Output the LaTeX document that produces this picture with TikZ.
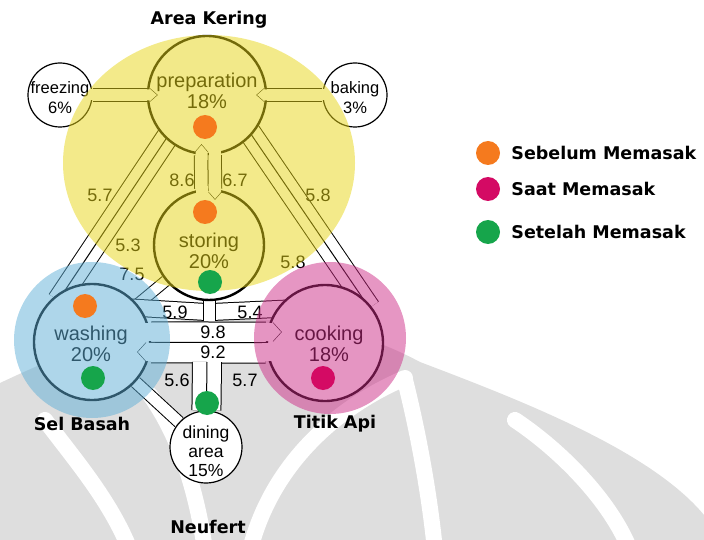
\documentclass[tikz,border=0pt]{standalone}
\usepackage{fontspec}
\setmainfont{Liberation Sans}
\newfontfamily\headfont{DejaVu Sans}
\usetikzlibrary{positioning}
\pgfdeclarelayer{bg}
\pgfsetlayers{bg,main}
\definecolor{sebelum}{RGB}{245,122,30}
\definecolor{saat}{RGB}{212,10,100}
\definecolor{setelah}{RGB}{22,165,75}
\definecolor{kering}{RGB}{231,213,21}
\definecolor{basah}{RGB}{95,175,215}
\definecolor{api}{RGB}{205,45,135}
\definecolor{wmgray}{RGB}{222,222,222}
\tikzset{
    room/.style = {circle, draw=black, line width=2.4pt, fill=white, inner sep=0pt, minimum size=#1},
    smallroom/.style = {circle, draw=black, line width=1.2pt, fill=white, inner sep=0pt, minimum size=#1},
    rtext/.style = {align=center, inner sep=0pt, font=\fontsize{20}{21}\selectfont},
    stext/.style = {align=center, inner sep=0pt, font=\fontsize{16.5}{20}\selectfont},
    flow/.style = {inner sep=0pt, font=\fontsize{18}{18}\selectfont},
    lane/.style = {draw=black, line width=1pt, double=white, double distance=#1},
    lane/.default = 8pt,
    divider/.style = {line width=1pt},
    mouth/.style = {fill=white, draw=none},
    zone/.style = {fill=#1, fill opacity=0.5, draw=none},
    dot/.style = {circle, fill=#1, inner sep=0pt, minimum size=24pt},
    head/.style = {inner sep=0pt, font=\headfont\bfseries\fontsize{17.5}{18}\selectfont},
    wmband/.style = {draw=white, line width=16pt, line cap=round},
}
\begin{document}
\begin{tikzpicture}[x=1pt, y=-1pt]
\useasboundingbox (0,0) rectangle (704,540);
% rooms
\node[room=118pt] (prep) at (207,95) {};
\node[room=110pt] (stor) at (209,245) {};
\node[room=116pt] (wash) at (92,342) {};
\node[room=116pt] (cook) at (325,343) {};
\node[smallroom=64pt] (frz) at (60,95) {};
\node[smallroom=64pt] (bak) at (355,95) {};
\node[smallroom=72pt] (din) at (206,447) {};
\coordinate (c59) at (206,312);
\coordinate (c54) at (212,312);
\coordinate (hubtop) at (209,321);
\coordinate (dintop) at (207,362);
%
\begin{pgfonlayer}{bg}
% watermark
\fill[wmgray] (0,383) .. controls (70,350) and (150,318) .. (215,318) .. controls (300,318) and (360,330) .. (420,362) .. controls (520,400) and (650,450) .. (704,515) -- (704,540) -- (0,540) -- cycle;
\draw[wmband] (45,420) .. controls (75,460) and (110,500) .. (130,550);
\draw[wmband] (150,395) .. controls (175,430) and (195,480) .. (205,550);
\draw[wmband] (250,550) .. controls (270,470) and (330,410) .. (405,378);
\draw[wmband] (405,380) .. controls (420,440) and (430,500) .. (435,550);
\draw[wmband] (515,420) .. controls (560,450) and (610,500) .. (630,550);
% corridors
\draw[lane=12pt] (frz) -- (prep);
\draw[lane=12pt] (bak) -- (prep);
\draw[lane=26pt] (prep) -- (stor);
\draw[divider] (prep) -- (stor);
\draw[lane=21pt, shorten <=-14pt, shorten >=-14pt] (prep.227) -- (wash.116);
\draw[divider, shorten <=-14pt, shorten >=-14pt] (prep.227) -- (wash.116);
\draw[lane=21pt, shorten <=-14pt, shorten >=-14pt] (prep.318) -- (cook.52);
\draw[divider, shorten <=-14pt, shorten >=-14pt] (prep.318) -- (cook.52);
\draw[lane=10pt] (stor) -- (wash);
\draw[lane=16pt, shorten >=-12pt] (c59) -- (wash.35);
\draw[lane=16pt, shorten >=-12pt] (c54) -- (cook.145);
\draw[lane=11pt] (stor) -- (hubtop);
\draw[lane=11pt] (wash) -- (din);
\draw[lane=40pt] (wash) -- (cook);
\draw[divider] (wash) -- (cook);
\draw[lane=28pt] (din) -- (dintop);
\draw[divider] (din) -- (dintop);
\end{pgfonlayer}
%
% lane ends
\fill[mouth] (144,89.5) -- (150,89.5) -- (157,95) -- (150,100.5) -- (144,100.5) -- cycle;
\draw (150,88.5) -- (157.5,95) -- (150,101.5);
\fill[mouth] (87,89.5) rectangle (96,100.5);
\fill[mouth] (270,89.5) -- (264,89.5) -- (257,95) -- (264,100.5) -- (270,100.5) -- cycle;
\draw (264,88.5) -- (256.5,95) -- (264,101.5);
\fill[mouth] (318,89.5) rectangle (327,100.5);
\fill[mouth] (195.5,160) -- (195.5,152) -- (201.5,145) -- (207.5,152) -- (207.5,160) -- cycle;
\draw (195,152) -- (201.5,144.5) -- (208,152);
\fill[mouth] (195.5,186) rectangle (207.5,196);
\fill[mouth] (208.5,184) -- (208.5,192) -- (215,199) -- (221,192) -- (221,184) -- cycle;
\draw (208.5,192) -- (215,199.5) -- (221.5,192);
\fill[mouth] (208.5,148) rectangle (221,158);
\fill[mouth] (264,323) -- (273,323) -- (281,332) -- (273,341) -- (264,341) -- cycle;
\draw (273,322.5) -- (281.5,332) -- (273,341.5);
\fill[mouth] (155,342.8) -- (146,342.8) -- (138,352) -- (146,361.2) -- (155,361.2) -- cycle;
\draw (146,342.5) -- (137.5,352) -- (146,361.5);
\fill[mouth] (143,322.8) rectangle (156,341.2);
\fill[mouth] (262,342.8) rectangle (274,361.2);
%
\node[rtext] at (207,91) {preparation\\18\%};
\node[rtext] at (209,251) {storing\\20\%};
\node[rtext] at (91,344) {washing\\20\%};
\node[rtext] at (329,344) {cooking\\18\%};
\node[stext] at (60,98) {freezing\\6\%};
\node[stext] at (355,98) {baking\\3\%};
\node[stext, font=\fontsize{17.5}{19}\selectfont] at (206,451) {dining\\area\\15\%};
%
\node[flow] at (100,195) {5.7};
\node[flow] at (182,180) {8.6};
\node[flow] at (235,180) {6.7};
\node[flow] at (318,195) {5.8};
\node[flow] at (128,245) {5.3};
\node[flow] at (132,274) {7.5};
\node[flow] at (293,262) {5.8};
\node[flow] at (175,312) {5.9};
\node[flow] at (250,312) {5.4};
\node[flow] at (213,332) {9.8};
\node[flow] at (213,352) {9.2};
\node[flow] at (177,380) {5.6};
\node[flow] at (245,380) {5.7};
%
% zones
\fill[zone=kering] (209,163) ellipse [x radius=146pt, y radius=128pt];
\fill[zone=basah] (92,340) circle [radius=78pt];
\fill[zone=api] (330,338) circle [radius=76pt];
%
\node[dot=sebelum] (d1) at (205,127) {};
\node[dot=sebelum] (d2) at (205,212) {};
\node[dot=setelah] (d3) at (210,282) {};
\node[dot=sebelum] (d4) at (85,306) {};
\node[dot=setelah] (d5) at (93,378) {};
\node[dot=saat] (d6) at (323,378) {};
\node[dot=setelah] (d7) at (207,403) {};
%
\node[head] (kering) at (209,20) {Area Kering};
\node[head] (basah) at (82,424) {Sel Basah};
\node[head] (api) at (335,424) {Titik Api};
\node[head] (neufert) at (208,527) {Neufert};
%
\node[dot=sebelum] (leg1) at (488,153) {};
\node[dot=saat] (leg2) at (488,189) {};
\node[dot=setelah] (leg3) at (488,232) {};
\node[head, right=11pt of leg1] {Sebelum Memasak};
\node[head, right=11pt of leg2] {Saat Memasak};
\node[head, right=11pt of leg3] {Setelah Memasak};
\end{tikzpicture}
\end{document}
